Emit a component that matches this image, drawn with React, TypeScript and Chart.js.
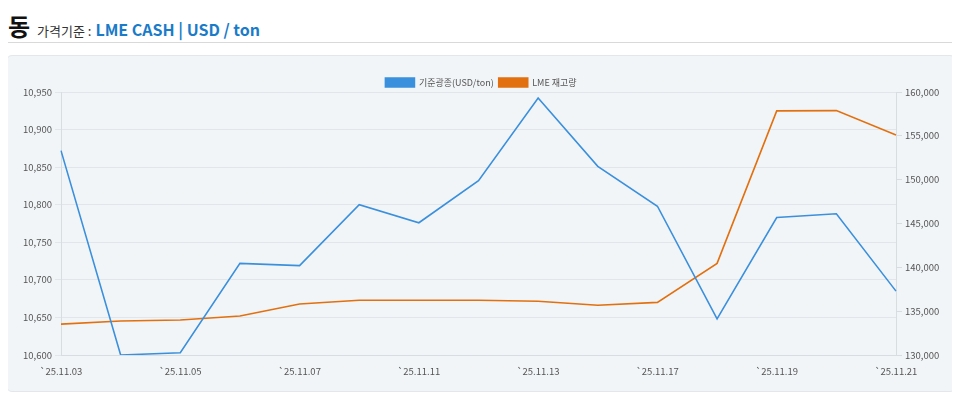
import React, { useEffect, useRef } from "react";
import { Chart, registerables } from "chart.js";

Chart.register(...registerables);

const dates = ["`25.11.03", "`25.11.04", "`25.11.05", "`25.11.06", "`25.11.07", "`25.11.10", "`25.11.11", "`25.11.12", "`25.11.13", "`25.11.14", "`25.11.17", "`25.11.18", "`25.11.19", "`25.11.20", "`25.11.21"];
const priceValues = [10872, 10600, 10603, 10722, 10719, 10800, 10776, 10832, 10942, 10851, 10798, 10648, 10783, 10788, 10685];
const stockValues = [133525, 133875, 134000, 134450, 135825, 136250, 136250, 136250, 136125, 135675, 136000, 140450, 157850, 157875, 155100];

const FONT = "'Noto Sans CJK KR', 'Noto Sans', sans-serif";

const legendShrink = {
  id: "legendShrink",
  beforeLayout(chart: any) {
    const lg = chart.legend;
    if (lg && !lg.__patched) {
      const orig = lg.fit.bind(lg);
      lg.fit = function () {
        orig();
        this.height -= 5;
      };
      lg.__patched = true;
    }
  },
};

export default function App() {
  const ref = useRef<HTMLCanvasElement | null>(null);
  useEffect(() => {
    if (!ref.current) return;
    const chart = new Chart(ref.current, {
      type: "line",
      plugins: [legendShrink],
      data: {
        labels: dates,
        datasets: [
          {
            label: "기준광종(USD/ton)",
            data: priceValues,
            borderColor: "#3a90dc",
            backgroundColor: "#3a90dc",
            borderWidth: 1.6,
            pointRadius: 0,
            tension: 0,
            yAxisID: "y",
          },
          {
            label: "LME 재고량",
            data: stockValues,
            borderColor: "#e2700f",
            backgroundColor: "#e2700f",
            borderWidth: 1.6,
            pointRadius: 0,
            tension: 0,
            yAxisID: "y1",
          },
        ],
      },
      options: {
        responsive: false,
        animation: false,
        maintainAspectRatio: false,
        layout: { autoPadding: false, padding: { top: 17, left: 0, right: 0, bottom: 0 } },
        plugins: {
          legend: {
            position: "top",
            labels: {
              boxWidth: 29,
              boxHeight: 9,
              color: "#555",
              font: { size: 9, family: FONT },
              padding: 5,
            },
          },
          tooltip: { enabled: false },
        },
        scales: {
          x: {
            offset: false,
            grid: { display: false, drawTicks: true },
            border: { display: true, color: "#d8dde2" },
            ticks: {
              color: "#555",
              font: { size: 9.5, family: FONT },
              maxRotation: 0,
              autoSkip: false,
              callback: (v: any, i: number) => (i % 2 === 0 ? dates[i] : ""),
            },
            afterFit: (s: any) => { s.height = 36; },
          },
          y: {
            position: "left",
            min: 10600,
            max: 10950,
            grid: { color: "#e2e6ea", tickLength: 6 },
            border: { color: "#d8dde2" },
            ticks: {
              stepSize: 50,
              color: "#555",
              font: { size: 9.5, family: FONT },
              padding: 3,
              callback: (v: any) => Number(v).toLocaleString("en-US"),
            },
            afterFit: (s: any) => { s.width = 54; },
          },
          y1: {
            position: "right",
            min: 130000,
            max: 160000,
            grid: { drawOnChartArea: false, color: "#d8dde2", tickLength: 6 },
            border: { color: "#d8dde2" },
            ticks: {
              stepSize: 5000,
              color: "#555",
              font: { size: 9.5, family: FONT },
              padding: 3,
              callback: (v: any) => Number(v).toLocaleString("en-US"),
            },
            afterFit: (s: any) => { s.width = 59; },
          },
        },
      },
    });
    return () => chart.destroy();
  }, []);

  return (
    <div style={{ fontFamily: FONT, width: 944 }}>
      <div style={{ display: "flex", alignItems: "baseline", height: 34 }}>
        <span style={{ fontSize: 24, fontWeight: 700, color: "#111", marginRight: 7 }}>동</span>
        <span style={{ fontSize: 13, color: "#333", marginRight: 4 }}>가격기준 :</span>
        <span style={{ fontSize: 16, fontWeight: 700, color: "#1a7bc9" }}>LME CASH | USD / ton</span>
      </div>
      <div style={{ height: 1, background: "#d9d9d9", marginTop: 0 }} />
      <div
        style={{
          position: "relative",
          marginTop: 12,
          marginLeft: -2,
          width: 948,
          height: 335,
          background: "#f2f5f8",
          border: "1px solid #e3e7eb",
          borderRadius: 6,
        }}
      >
        <canvas ref={ref} width={948} height={335} style={{ display: "block" }} />
      </div>
    </div>
  );
}
